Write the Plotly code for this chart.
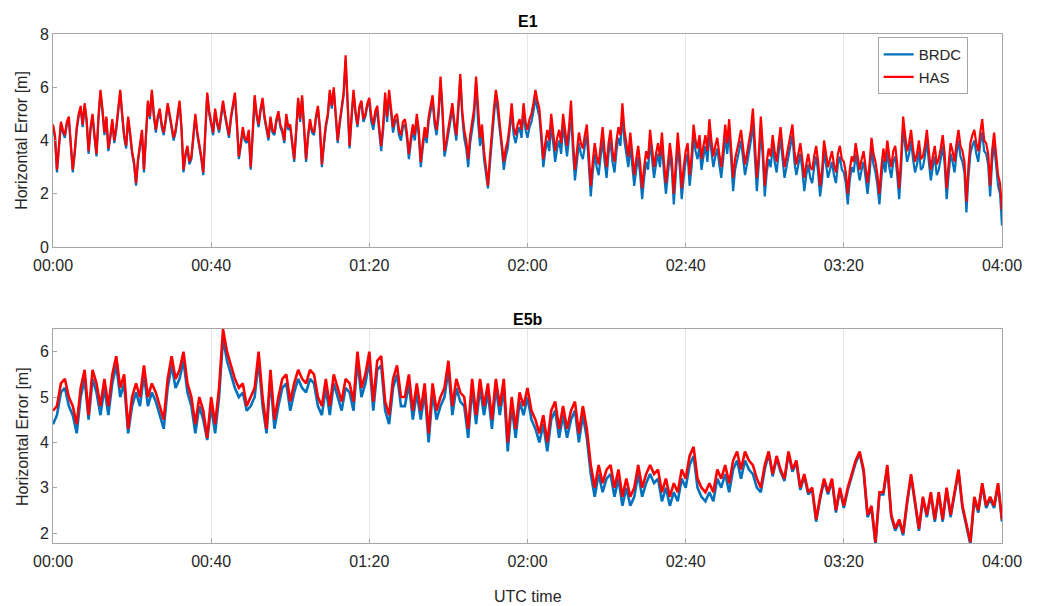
import plotly.graph_objects as go
from plotly.subplots import make_subplots

# time axes: minutes after 00:00 UTC
e1_minutes = [i / 2 for i in range(0, 481)]   # E1 sampled every 30 s
e5b_minutes = list(range(0, 241))             # E5b sampled every minute
tick_vals = [0, 40, 80, 120, 160, 200, 240]
tick_text = ["00:00", "00:40", "01:20", "02:00", "02:40", "03:20", "04:00"]

# ---- E1 horizontal error [m] (one row = 10 minutes) ----
e1_has = [
    4.6, 4.2, 2.9, 3.8, 4.7, 4.4, 4.2, 4.7, 4.9, 3.9, 2.9, 3.6, 4.5, 5.0, 5.3, 4.6, 5.4, 4.8, 3.6, 4.5,
    5.0, 4.2, 3.5, 4.9, 5.9, 5.2, 4.3, 4.9, 3.7, 4.2, 4.8, 4.0, 4.5, 5.2, 5.9, 5.0, 4.2, 3.8, 4.9, 4.3,
    3.6, 3.2, 2.4, 3.3, 3.9, 4.4, 2.9, 4.2, 5.5, 4.9, 5.9, 5.0, 4.4, 4.9, 5.2, 4.6, 4.3, 4.8, 5.4, 5.0,
    4.6, 4.1, 4.4, 4.9, 5.5, 4.5, 2.9, 3.5, 3.8, 3.2, 3.4, 4.2, 5.0, 4.3, 3.9, 3.4, 2.8, 4.6, 5.8, 5.1,
    4.7, 4.3, 5.2, 4.7, 4.4, 4.9, 5.5, 5.0, 4.6, 4.2, 4.9, 5.3, 5.8, 4.7, 3.4, 3.9, 4.5, 4.1, 4.0, 4.4,
    3.0, 4.3, 5.7, 5.0, 4.6, 5.2, 5.6, 4.9, 4.5, 4.1, 4.9, 4.4, 4.3, 4.8, 5.1, 4.6, 4.4, 4.0, 5.0, 4.5,
    4.6, 4.0, 3.3, 4.4, 5.6, 4.8, 5.7, 4.5, 3.3, 4.2, 4.8, 4.4, 4.3, 4.9, 5.3, 4.5, 3.1, 3.9, 4.6, 5.0,
    5.9, 5.3, 6.0, 5.0, 4.0, 4.7, 5.2, 5.8, 7.2, 5.6, 3.8, 4.9, 5.9, 5.1, 4.6, 5.3, 5.5, 4.8, 5.0, 5.4,
    5.6, 4.9, 4.6, 5.1, 5.3, 4.5, 3.8, 4.6, 5.8, 4.9, 5.9, 5.2, 4.5, 4.9, 5.0, 4.4, 4.2, 4.7, 4.8, 4.3,
    3.5, 4.1, 4.6, 4.2, 5.0, 4.4, 3.2, 3.9, 4.5, 4.1, 4.9, 5.3, 5.7, 4.8, 4.4, 5.1, 6.4, 5.2, 3.6, 4.0,
    4.5, 5.0, 5.4, 4.7, 4.2, 5.3, 6.5, 5.1, 4.4, 4.0, 3.3, 4.2, 4.8, 5.2, 6.4, 5.0, 4.1, 4.6, 3.6, 3.0,
    2.3, 3.4, 4.5, 5.2, 5.9, 5.4, 4.6, 4.0, 3.2, 3.7, 4.0, 4.6, 5.4, 4.5, 4.2, 4.6, 4.8, 4.4, 5.4, 4.7,
    4.4, 4.8, 5.0, 5.4, 5.9, 5.5, 5.2, 4.3, 3.3, 3.9, 4.4, 4.0, 5.0, 4.3, 3.6, 4.1, 4.4, 3.9, 5.0, 4.4,
    3.8, 4.5, 5.5, 4.0, 2.9, 3.6, 4.3, 3.9, 3.7, 4.2, 4.6, 3.5, 2.3, 3.2, 3.9, 3.4, 3.1, 3.8, 4.5, 3.6,
    3.0, 3.9, 4.4, 3.6, 3.2, 4.0, 4.5, 4.2, 5.4, 4.4, 3.9, 3.4, 4.3, 3.5, 2.7, 3.3, 3.8, 3.1, 2.2, 3.0,
    3.6, 3.3, 4.4, 3.7, 3.0, 3.5, 3.9, 3.4, 4.3, 3.2, 2.4, 3.1, 3.9, 3.3, 2.0, 3.1, 4.3, 3.4, 2.2, 3.0,
    3.6, 3.9, 2.7, 3.4, 4.6, 4.0, 3.7, 4.2, 3.3, 3.8, 4.2, 3.6, 4.8, 4.0, 3.4, 3.8, 4.1, 3.5, 3.0, 3.7,
    4.6, 3.9, 4.8, 3.7, 2.6, 3.3, 3.6, 4.0, 4.4, 3.8, 3.1, 3.5, 4.0, 4.4, 5.2, 3.9, 2.6, 3.5, 4.9, 3.8,
    2.3, 3.2, 3.7, 3.4, 4.2, 3.6, 3.2, 3.9, 4.5, 3.7, 3.0, 3.4, 3.8, 4.1, 4.6, 3.6, 3.1, 3.5, 3.9, 3.3,
    2.6, 3.1, 3.5, 3.0, 2.9, 3.4, 3.8, 3.2, 2.3, 2.9, 4.0, 3.5, 3.0, 3.3, 3.6, 3.1, 2.8, 3.5, 3.8, 3.3,
    3.2, 2.8, 2.0, 2.9, 3.4, 3.2, 3.9, 3.4, 2.9, 3.3, 3.6, 3.0, 2.4, 3.1, 4.1, 3.5, 3.2, 2.7, 2.0, 3.0,
    3.7, 3.2, 4.0, 3.4, 3.0, 3.6, 3.8, 3.1, 2.2, 3.4, 4.9, 4.2, 3.6, 3.9, 4.4, 3.7, 3.2, 3.5, 4.0, 3.3,
    3.4, 3.8, 4.4, 3.6, 2.9, 3.4, 3.8, 3.1, 3.3, 3.7, 4.2, 3.5, 2.2, 3.1, 3.9, 3.6, 3.2, 3.9, 4.4, 3.8,
    3.6, 3.2, 1.7, 3.0, 3.9, 4.2, 4.4, 3.9, 3.6, 4.3, 4.8, 4.0, 3.9, 3.5, 2.3, 3.6, 4.3, 3.5, 2.7, 2.4,
    1.4,
]
e1_brdc = [
    4.5, 4.1, 2.8, 3.7, 4.6, 4.3, 4.1, 4.6, 4.8, 3.8, 2.8, 3.5, 4.4, 4.9, 5.2, 4.5, 5.3, 4.7, 3.5, 4.4,
    4.9, 4.1, 3.4, 4.8, 5.8, 5.1, 4.2, 4.8, 3.6, 4.1, 4.7, 3.9, 4.4, 5.1, 5.8, 4.9, 4.1, 3.7, 4.8, 4.2,
    3.5, 3.1, 2.3, 3.2, 3.8, 4.3, 2.8, 4.1, 5.4, 4.8, 5.8, 4.9, 4.3, 4.8, 5.1, 4.5, 4.2, 4.7, 5.3, 4.9,
    4.5, 4.0, 4.3, 4.8, 5.4, 4.4, 2.8, 3.4, 3.7, 3.1, 3.3, 4.1, 4.9, 4.2, 3.8, 3.3, 2.7, 4.5, 5.7, 5.0,
    4.6, 4.2, 5.1, 4.6, 4.3, 4.8, 5.4, 4.9, 4.5, 4.1, 4.8, 5.2, 5.7, 4.6, 3.3, 3.8, 4.4, 4.0, 3.9, 4.3,
    2.9, 4.2, 5.6, 4.9, 4.5, 5.1, 5.5, 4.8, 4.4, 4.0, 4.8, 4.3, 4.2, 4.7, 5.0, 4.5, 4.3, 3.9, 4.9, 4.4,
    4.5, 3.9, 3.2, 4.3, 5.5, 4.7, 5.6, 4.4, 3.2, 4.1, 4.7, 4.3, 4.2, 4.8, 5.2, 4.4, 3.0, 3.8, 4.5, 4.9,
    5.8, 5.2, 5.9, 4.9, 3.9, 4.6, 5.1, 5.7, 7.0, 5.5, 3.7, 4.8, 5.8, 5.0, 4.5, 5.2, 5.4, 4.7, 4.9, 5.3,
    5.4, 4.7, 4.4, 4.9, 5.1, 4.3, 3.6, 4.4, 5.6, 4.7, 5.7, 5.0, 4.3, 4.7, 4.8, 4.2, 4.0, 4.5, 4.6, 4.1,
    3.3, 3.9, 4.4, 4.0, 4.8, 4.2, 3.0, 3.7, 4.3, 3.9, 4.7, 5.1, 5.5, 4.6, 4.2, 4.9, 6.2, 5.0, 3.4, 3.8,
    4.3, 4.8, 5.2, 4.5, 4.0, 5.1, 6.3, 4.9, 4.1, 3.7, 3.0, 3.9, 4.5, 4.9, 6.2, 4.7, 3.8, 4.3, 3.3, 2.7,
    2.2, 3.1, 4.2, 4.9, 5.7, 5.1, 4.3, 3.7, 2.9, 3.4, 3.7, 4.3, 5.1, 4.2, 3.9, 4.3, 4.5, 4.1, 5.1, 4.4,
    4.1, 4.5, 4.7, 5.1, 5.6, 5.2, 4.9, 4.0, 3.0, 3.6, 4.0, 3.6, 4.6, 3.9, 3.2, 3.7, 4.0, 3.5, 4.6, 4.0,
    3.4, 4.1, 5.1, 3.6, 2.5, 3.2, 3.9, 3.5, 3.3, 3.8, 4.2, 3.1, 1.9, 2.8, 3.5, 3.0, 2.7, 3.4, 4.0, 3.2,
    2.6, 3.5, 4.0, 3.2, 2.8, 3.6, 4.1, 3.8, 5.0, 4.0, 3.5, 3.0, 3.8, 3.1, 2.3, 2.9, 3.4, 2.7, 1.8, 2.6,
    3.2, 2.9, 4.0, 3.3, 2.6, 3.1, 3.5, 3.0, 3.9, 2.8, 2.0, 2.7, 3.5, 2.9, 1.6, 2.7, 3.8, 3.0, 1.8, 2.6,
    3.2, 3.5, 2.3, 3.0, 4.2, 3.6, 3.3, 3.8, 2.9, 3.4, 3.8, 3.2, 4.3, 3.6, 3.0, 3.4, 3.7, 3.1, 2.6, 3.3,
    4.2, 3.5, 4.3, 3.3, 2.1, 2.9, 3.2, 3.6, 4.0, 3.4, 2.7, 3.1, 3.6, 4.0, 4.7, 3.5, 2.1, 3.1, 4.4, 3.4,
    1.9, 2.8, 3.3, 3.0, 3.8, 3.2, 2.8, 3.5, 4.1, 3.3, 2.6, 3.0, 3.4, 3.7, 4.2, 3.2, 2.7, 3.1, 3.5, 2.9,
    2.1, 2.7, 3.1, 2.6, 2.4, 3.0, 3.4, 2.8, 1.9, 2.5, 3.6, 3.1, 2.6, 2.9, 3.2, 2.7, 2.4, 3.1, 3.4, 2.9,
    2.8, 2.4, 1.6, 2.5, 3.0, 2.8, 3.5, 3.0, 2.5, 2.9, 3.2, 2.6, 2.0, 2.7, 3.7, 3.1, 2.8, 2.3, 1.6, 2.6,
    3.3, 2.8, 3.6, 3.0, 2.6, 3.2, 3.4, 2.7, 1.8, 3.0, 4.5, 3.8, 3.2, 3.5, 4.0, 3.3, 2.8, 3.1, 3.6, 2.9,
    3.0, 3.4, 4.0, 3.2, 2.5, 3.0, 3.4, 2.7, 2.9, 3.3, 3.8, 3.1, 1.8, 2.7, 3.5, 3.2, 2.8, 3.5, 4.0, 3.4,
    3.2, 2.8, 1.3, 2.6, 3.5, 3.8, 4.0, 3.5, 3.2, 3.9, 4.3, 3.6, 3.5, 3.1, 1.9, 3.2, 3.9, 3.1, 2.3, 2.0,
    0.8,
]

# ---- E5b horizontal error [m] (one row = 10 minutes) ----
e5b_has = [
    4.7, 4.8, 5.3, 5.4, 5.0, 4.8, 4.4, 5.2, 5.6, 4.6,
    5.6, 5.3, 4.8, 5.4, 4.8, 5.5, 5.9, 5.2, 5.5, 4.3,
    5.0, 5.3, 5.0, 5.7, 5.0, 5.3, 5.1, 4.8, 4.5, 5.4,
    5.9, 5.4, 5.6, 6.0, 5.3, 5.0, 4.4, 5.0, 4.7, 4.1,
    5.0, 4.4, 5.2, 6.5, 6.0, 5.7, 5.4, 5.2, 5.3, 4.8,
    5.0, 5.2, 6.0, 5.0, 4.3, 5.6, 4.5, 5.0, 5.4, 5.5,
    4.9, 5.3, 5.6, 5.4, 5.3, 5.6, 5.5, 5.0, 4.8, 5.4,
    4.8, 5.5, 5.2, 4.9, 5.4, 5.3, 4.9, 6.0, 5.2, 5.5,
    6.0, 4.9, 5.8, 5.9, 4.9, 4.6, 5.4, 5.7, 5.0, 5.0,
    5.5, 4.7, 5.3, 4.7, 5.3, 4.2, 5.3, 4.7, 5.0, 5.2,
    5.8, 4.8, 5.4, 5.1, 5.0, 4.3, 5.4, 4.6, 5.4, 4.8,
    5.3, 4.5, 5.4, 4.8, 5.4, 4.0, 5.0, 4.3, 5.1, 4.8,
    5.2, 4.7, 4.5, 4.2, 4.6, 4.0, 4.7, 4.9, 4.3, 4.8,
    4.3, 4.7, 4.9, 4.2, 4.8, 4.3, 3.5, 3.0, 3.5, 3.1,
    3.4, 3.5, 3.0, 3.4, 2.8, 3.2, 2.8, 3.0, 3.5, 3.0,
    3.3, 3.5, 3.3, 3.4, 2.9, 3.2, 2.8, 3.1, 2.9, 3.4,
    3.2, 3.7, 3.9, 3.2, 3.0, 2.9, 3.1, 2.9, 3.4, 3.2,
    3.5, 3.1, 3.6, 3.8, 3.4, 3.8, 3.6, 3.5, 3.2, 3.0,
    3.5, 3.8, 3.3, 3.7, 3.4, 3.2, 3.8, 3.4, 3.6, 3.0,
    3.3, 2.9, 3.0, 2.3, 2.8, 3.2, 2.9, 3.2, 2.5, 3.0,
    2.6, 3.0, 3.3, 3.6, 3.8, 3.4, 2.4, 2.6, 1.8, 2.9,
    2.9, 3.5, 2.4, 2.1, 2.3, 2.0, 2.7, 3.3, 2.7, 2.1,
    2.8, 2.4, 2.9, 2.3, 2.9, 2.3, 3.0, 2.4, 2.9, 3.4,
    2.6, 2.2, 1.8, 2.8, 2.5, 3.1, 2.6, 2.8, 2.6, 3.1,
    2.3,
]
e5b_brdc = [
    4.4, 4.6, 5.1, 5.2, 4.8, 4.6, 4.2, 5.0, 5.4, 4.5,
    5.4, 5.1, 4.6, 5.2, 4.6, 5.3, 5.7, 5.0, 5.3, 4.2,
    4.8, 5.1, 4.8, 5.5, 4.8, 5.1, 4.9, 4.6, 4.3, 5.2,
    5.7, 5.2, 5.4, 5.8, 5.1, 4.8, 4.2, 4.8, 4.5, 4.05,
    4.8, 4.2, 5.0, 6.3, 5.8, 5.5, 5.2, 5.0, 5.1, 4.7,
    4.8, 5.0, 5.8, 4.8, 4.2, 5.4, 4.3, 4.8, 5.2, 5.3,
    4.7, 5.1, 5.4, 5.2, 5.1, 5.4, 5.3, 4.8, 4.6, 5.2,
    4.6, 5.3, 5.0, 4.7, 5.2, 5.1, 4.7, 5.8, 5.0, 5.3,
    5.8, 4.7, 5.6, 5.7, 4.7, 4.4, 5.2, 5.5, 4.8, 4.8,
    5.3, 4.5, 5.1, 4.5, 5.1, 4.0, 5.1, 4.5, 4.8, 5.0,
    5.6, 4.6, 5.2, 4.9, 4.8, 4.1, 5.2, 4.4, 5.2, 4.6,
    5.1, 4.3, 5.2, 4.6, 5.2, 3.8, 4.8, 4.1, 4.9, 4.6,
    5.0, 4.5, 4.3, 4.0, 4.4, 3.8, 4.5, 4.7, 4.1, 4.6,
    4.1, 4.5, 4.7, 4.0, 4.6, 4.1, 3.3, 2.8, 3.3, 2.9,
    3.2, 3.3, 2.8, 3.2, 2.6, 3.0, 2.6, 2.8, 3.3, 2.8,
    3.1, 3.3, 3.1, 3.2, 2.7, 3.0, 2.6, 2.9, 2.7, 3.2,
    3.0, 3.5, 3.7, 3.0, 2.8, 2.7, 2.9, 2.7, 3.2, 3.0,
    3.3, 2.9, 3.4, 3.6, 3.2, 3.6, 3.4, 3.3, 3.0, 2.9,
    3.4, 3.75, 3.25, 3.65, 3.35, 3.15, 3.75, 3.35, 3.55, 2.95,
    3.25, 2.85, 2.95, 2.25, 2.75, 3.15, 2.85, 3.15, 2.45, 2.95,
    2.55, 2.95, 3.25, 3.55, 3.75, 3.35, 2.35, 2.55, 1.75, 2.85,
    2.85, 3.45, 2.35, 2.05, 2.25, 1.95, 2.65, 3.25, 2.65, 2.05,
    2.75, 2.35, 2.85, 2.25, 2.85, 2.25, 2.95, 2.35, 2.85, 3.35,
    2.55, 2.15, 1.75, 2.75, 2.45, 3.05, 2.55, 2.75, 2.55, 3.05,
    2.25,
]

BLUE = "#0072BD"
RED = "#FF0000"
FONT = "Liberation Sans, Arial, sans-serif"
TXT = "#262626"

fig = make_subplots(rows=2, cols=1, vertical_spacing=0.0)

fig.add_trace(go.Scatter(x=e1_minutes[:len(e1_brdc)], y=e1_brdc, mode="lines", name="BRDC",
                         line=dict(color=BLUE, width=2.2)), row=1, col=1)
fig.add_trace(go.Scatter(x=e1_minutes[:len(e1_has)], y=e1_has, mode="lines", name="HAS",
                         line=dict(color=RED, width=2.2)), row=1, col=1)
fig.add_trace(go.Scatter(x=e5b_minutes[:len(e5b_brdc)], y=e5b_brdc, mode="lines", name="BRDC",
                         line=dict(color=BLUE, width=2.6), showlegend=False), row=2, col=1)
fig.add_trace(go.Scatter(x=e5b_minutes[:len(e5b_has)], y=e5b_has, mode="lines", name="HAS",
                         line=dict(color=RED, width=2.6), showlegend=False), row=2, col=1)

axis_common = dict(showline=True, linecolor="#a6a6a6", linewidth=1, mirror=True,
                   ticks="inside", ticklen=4, tickcolor="#a6a6a6", automargin=False,
                   tickfont=dict(family=FONT, size=16, color=TXT), zeroline=False)

fig.update_xaxes(range=[0, 240], tickvals=tick_vals, ticktext=tick_text,
                 showgrid=True, gridcolor="#e6e6e6", ticklabelstandoff=4, **axis_common)
fig.update_yaxes(showgrid=False, **axis_common)

# the page body adds an 8 px offset, so the figure is 8 px smaller and margins compensate
fig.update_layout(
    width=1030, height=598,
    margin=dict(l=45, r=36, t=26, b=63, autoexpand=False),
    plot_bgcolor="white", paper_bgcolor="white",
    font=dict(family=FONT, size=16, color=TXT),
    xaxis=dict(domain=[0, 1]),
    yaxis=dict(domain=[0.5815, 1.0], range=[0, 8], tickvals=[0, 2, 4, 6, 8]),
    xaxis2=dict(domain=[0, 1]),
    yaxis2=dict(domain=[0.0, 0.4204], range=[1.78, 6.5], tickvals=[2, 3, 4, 5, 6]),
    legend=dict(x=0.869, y=0.994, xanchor="left", yanchor="top",
                bgcolor="white", bordercolor="#a6a6a6", borderwidth=1,
                font=dict(family=FONT, size=15, color=TXT),
                tracegroupgap=0, itemwidth=30),
    showlegend=True,
)

annotations = [
    dict(text="<b>E1</b>", x=0.5, y=1.0236, xref="paper", yref="paper",
         xanchor="center", yanchor="middle",
         showarrow=False, font=dict(family=FONT, size=16, color="#000000")),
    dict(text="<b>E5b</b>", x=0.5, y=0.440, xref="paper", yref="paper",
         xanchor="center", yanchor="middle",
         showarrow=False, font=dict(family=FONT, size=16, color="#000000")),
    dict(text="UTC time", x=0.5, y=-0.106, xref="paper", yref="paper",
         xanchor="center", yanchor="middle",
         showarrow=False, font=dict(family=FONT, size=16, color=TXT)),
    dict(text="Horizontal Error [m]", x=-0.0327, y=0.792, xref="paper", yref="paper",
         xanchor="center", yanchor="middle",
         textangle=-90, showarrow=False, font=dict(family=FONT, size=16, color=TXT)),
    dict(text="Horizontal Error [m]", x=-0.0327, y=0.21, xref="paper", yref="paper",
         xanchor="center", yanchor="middle",
         textangle=-90, showarrow=False, font=dict(family=FONT, size=16, color=TXT)),
]
fig.update_layout(annotations=annotations)

fig.write_html("out.html")
